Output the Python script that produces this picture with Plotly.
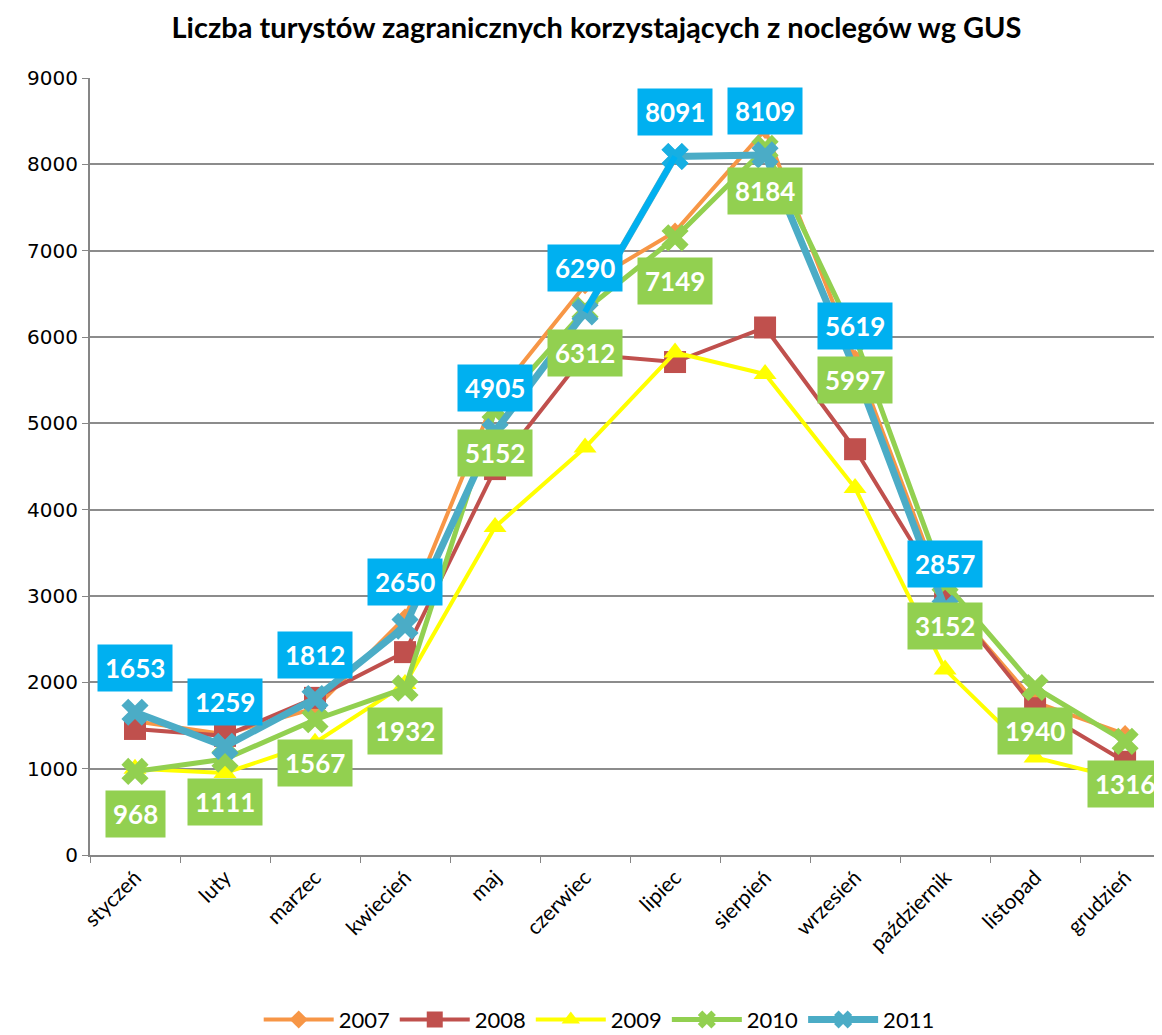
import plotly.graph_objects as go

months = ["styczeń", "luty", "marzec", "kwiecień", "maj", "czerwiec", "lipiec",
          "sierpień", "wrzesień", "październik", "listopad", "grudzień"]

y2007 = [1550, 1400, 1700, 2750, 5300, 6600, 7220, 8400, 5750, 2980, 1770, 1400]
y2008 = [1460, 1380, 1820, 2350, 4470, 5800, 5710, 6110, 4700, 3000, 1700, 1080]
y2009 = [1000, 950, 1300, 1980, 3800, 4720, 5820, 5570, 4250, 2150, 1130, 870]
y2010 = [968, 1111, 1567, 1932, 5152, 6312, 7149, 8184, 5997, 3152, 1940, 1316]
y2011 = [1653, 1259, 1812, 2650, 4905, 6290, 8091, 8109, 5619, 2857, None, None]

years = ["2007", "2008", "2009", "2010", "2011"]
colors = ["#F79646", "#C0504D", "#FFFF00", "#92D050", "#4BACC6"]
symbols = ["diamond", "square", "triangle-up", "x", "x"]
msizes = [14, 22, 20, 24, 24]
lwidths = [4, 4, 4, 5, 7]
series = [y2007, y2008, y2009, y2010, y2011]

fig = go.Figure()
for name, ys, c, s, ms, lw in zip(years, series, colors, symbols, msizes, lwidths):
    fig.add_trace(go.Scatter(
        x=months, y=ys, name=name, mode="lines+markers",
        line=dict(color=c, width=lw),
        marker=dict(symbol=s, size=ms, color=c, line=dict(width=0)),
    ))

# highlighted segment of 2011 (czerwiec -> lipiec) in bright blue
fig.add_trace(go.Scatter(
    x=months[5:7], y=y2011[5:7], mode="lines+markers", showlegend=False,
    line=dict(color="#00B0F0", width=6),
    marker=dict(symbol="x", size=[0, 24], color="#00B0F0", line=dict(width=0)),
))

annotations = []
for m, v in zip(months, y2011):
    if v is None:
        continue
    annotations.append(dict(x=m, y=v, xref="x", yref="y", text=f"<b>{v}</b>",
                            showarrow=False, yshift=44, bgcolor="#00B0F0",
                            borderpad=7, font=dict(family="Lato", size=26, color="white")))
for m, v in zip(months, y2010):
    annotations.append(dict(x=m, y=v, xref="x", yref="y", text=f"<b>{v}</b>",
                            showarrow=False, yshift=-43, bgcolor="#92D050",
                            borderpad=7, font=dict(family="Lato", size=26, color="white")))

fig.update_layout(
    width=1154, height=1027,
    paper_bgcolor="white", plot_bgcolor="white",
    margin=dict(l=82, r=0, t=70, b=180, autoexpand=False),
    title=dict(text="<b>Liczba turystów zagranicznych korzystających z noclegów wg GUS</b>",
               x=0.51, xanchor="center", y=0.9805, yanchor="middle",
               font=dict(family="Lato", size=29, color="black")),
    xaxis=dict(type="category", range=[-0.5, 11.41], autorange=False,
               tickangle=-45, ticks="outside", tickson="boundaries",
               ticklen=6, tickcolor="#868686", showline=True, linecolor="#868686",
               linewidth=2, showgrid=False,
               tickfont=dict(family="Lato", size=21, color="black")),
    yaxis=dict(range=[0, 9000], dtick=1000, ticks="outside", ticklen=6,
               tickcolor="#868686", showline=True, linecolor="#868686", linewidth=2,
               showgrid=True, gridcolor="#8C8C8C", gridwidth=2, zeroline=False,
               tickfont=dict(family="DejaVu Sans", size=20, color="black")),
    legend=dict(orientation="h", x=0.475, xanchor="center", y=-0.212, yanchor="middle",
                font=dict(family="Lato", size=22, color="black"), itemwidth=70),
    annotations=annotations,
    showlegend=True,
)

fig.write_html("out.html")
